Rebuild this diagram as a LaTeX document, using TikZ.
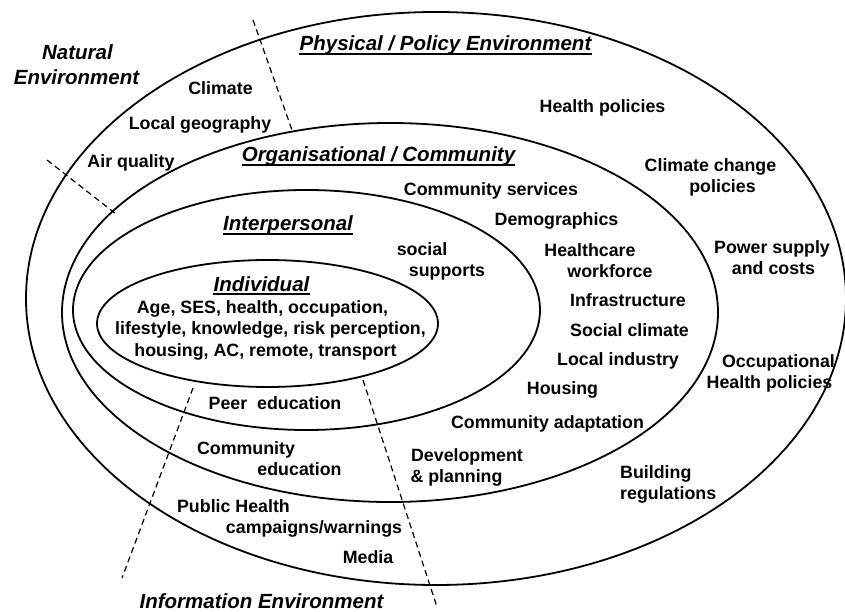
\documentclass[tikz,border=0pt]{standalone}
\usepackage{fontspec}
\setmainfont{Liberation Sans}
\begin{document}
\begin{tikzpicture}[x=1pt,y=-1pt,
  ring/.style={line width=1.8pt},
  divider/.style={line width=1.2pt, dash pattern=on 6pt off 4pt},
  lbl/.style={font=\fontsize{17.8}{21}\selectfont\bfseries, inner sep=0pt, anchor=base},
  head/.style={font=\fontsize{20.5}{25}\selectfont\bfseries\itshape, inner sep=0pt, anchor=base},
  uline/.style={line width=1.8pt},
]
\useasboundingbox (0,0) rectangle (845,612);

% nested levels of the model
\draw[ring] (436,298.5) ellipse [x radius=410pt, y radius=286.5pt];
\draw[ring] (390,312.5) ellipse [x radius=328pt, y radius=189.5pt];
\draw[ring] (306.5,310) ellipse [x radius=233.5pt, y radius=120pt];
\draw[ring] (267.5,323.5) ellipse [x radius=170.5pt, y radius=63.5pt];

% sector dividers
\coordinate (d1a) at (253,20);  \coordinate (d1b) at (292,130);
\coordinate (d2a) at (47,160);  \coordinate (d2b) at (116,214);
\coordinate (d3a) at (193,388); \coordinate (d3b) at (122,578);
\coordinate (d4a) at (363,380); \coordinate (d4b) at (437,607);
\draw[divider] (d1a) -- (d1b);
\draw[divider] (d2a) -- (d2b);
\draw[divider] (d3a) -- (d3b);
\draw[divider] (d4a) -- (d4b);

% headings
\node[head] (nat1) at (77.5,60) {Natural};
\node[head] (nat2) at (76.5,85) {Environment};
\node[head] (phys) at (445.5,51) {Physical / Policy Environment};
\node[head] (org) at (378.5,162) {Organisational / Community};
\node[head] (inter) at (288,231) {Interpersonal};
\node[head] (indiv) at (261.5,291) {Individual};
\node[head] (info) at (261.5,608.5) {Information Environment};
\foreach \n in {phys,org,inter,indiv}
  \draw[uline] ([yshift=-3pt]\n.base west) -- ([yshift=-3pt]\n.base east);

% natural environment
\node[lbl] (clim) at (220.5,94.5) {Climate};
\node[lbl] (geo) at (200,129.5) {Local geography};
\node[lbl] (air) at (131,167.5) {Air quality};

% physical / policy environment
\node[lbl] (hpol) at (602.5,112.5) {Health policies};
\node[lbl] (ccp1) at (710.5,172) {Climate change};
\node[lbl] (ccp2) at (722.5,193) {policies};
\node[lbl] (pow1) at (772,253) {Power supply};
\node[lbl] (pow2) at (773.5,274) {and costs};
\node[lbl] (occ1) at (778.5,367) {Occupational};
\node[lbl] (occ2) at (769.5,388) {Health policies};
\node[lbl] (bld1) at (620,478) [anchor=base west] {Building};
\node[lbl] (bld2) at (620,499) [anchor=base west] {regulations};

% organisational / community
\node[lbl] (csrv) at (491,195.5) {Community services};
\node[lbl] (demo) at (556.5,225.5) {Demographics};
\node[lbl] (hcw1) at (590,256) {Healthcare};
\node[lbl] (hcw2) at (610,277) {workforce};
\node[lbl] (infra) at (628,306) {Infrastructure};
\node[lbl] (socc) at (629.5,336) {Social climate};
\node[lbl] (lind) at (618,365) {Local industry};
\node[lbl] (hous) at (562.5,394.5) {Housing};
\node[lbl] (cadp) at (547.5,428) {Community adaptation};
\node[lbl] (dev1) at (467,461) {Development};
\node[lbl] (dev2) at (456.5,482) {\& planning};

% interpersonal
\node[lbl] (soc1) at (422,255) {social};
\node[lbl] (soc2) at (447,276) {supports};

% individual
\node[lbl] (ind1) at (262.5,313) {Age, SES, health, occupation,};
\node[lbl] (ind2) at (270.5,334.5) {lifestyle, knowledge, risk perception,};
\node[lbl] (ind3) at (265.5,356) {housing, AC, remote, transport};

% information environment
\node[lbl] (peer) at (275,409.5) {Peer\ \ education};
\node[lbl] (ced1) at (246,454.5) {Community};
\node[lbl] (ced2) at (299.5,475.5) {education};
\node[lbl] (phc1) at (233.5,512) {Public Health};
\node[lbl] (phc2) at (314,533) {campaigns/warnings};
\node[lbl] (media) at (368,563.5) {Media};
\end{tikzpicture}
\end{document}
